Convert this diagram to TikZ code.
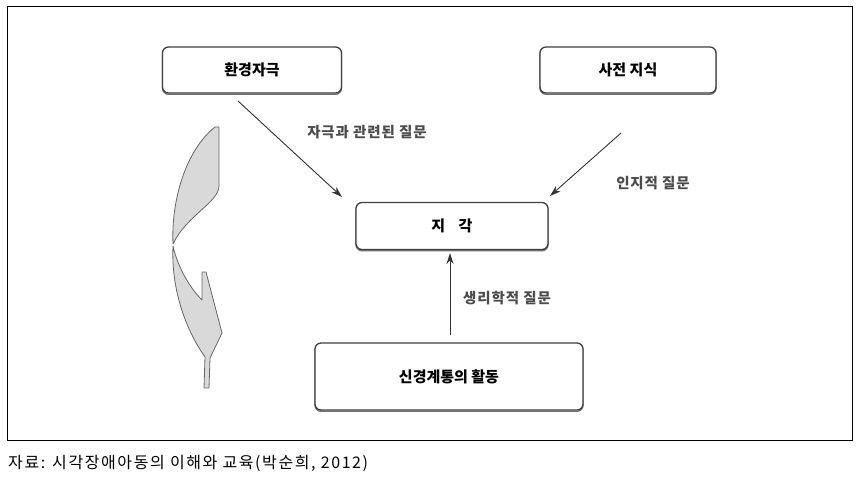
\documentclass[tikz,border=0pt]{standalone}
\usepackage{fontspec}
\setmainfont{Noto Sans CJK KR}
\usetikzlibrary{arrows.meta}
\tikzset{
  box/.style={draw=black!75, line width=1.3pt, rounded corners=6pt, fill=white, inner sep=0pt,
    preaction={draw=black!55, line width=1.3pt, transform canvas={yshift=-1.3pt}},
    font=\fontsize{15}{17}\selectfont\bfseries},
  lbl/.style={text=black!70, font=\fontsize{14.5}{16}\selectfont\bfseries\addfontfeatures{LetterSpace=6}, inner sep=0pt},
  conn/.style={draw=black!80, line width=0.9pt, -{Stealth[length=11pt,width=7pt]}},
  ribbon/.style={fill=black!15, draw=black!60, line width=0.8pt, line join=round}
}
\begin{document}
\begin{tikzpicture}[x=1pt,y=-1pt]
\useasboundingbox (0,0) rectangle (858,478);
\draw[line width=1pt] (7,7) rectangle (852,440);
% boxes
\node[box, minimum width=179pt, minimum height=46pt] (env) at (252,70) {환경자극};
\node[box, minimum width=176pt, minimum height=46pt] (know) at (628,70) {사전 지식};
\node[box, minimum width=192pt, minimum height=47pt] (perc) at (452,226) {지\hspace{0.9em}각};
\node[box, minimum width=268pt, minimum height=67pt] (neuro) at (449,376.5) {신경계통의 활동};
% labels
\node[lbl] (l1) at (367,132) {자극과 관련된 질문};
\node[lbl] (l2) at (653,183) {인지적 질문};
\node[lbl] (l3) at (507,298) {생리학적 질문};
% connectors
\coordinate (a1) at (238,101);
\coordinate (a1e) at (342,197);
\coordinate (a2) at (621,133);
\coordinate (a2e) at (550,196);
\coordinate (a3) at (450,335);
\coordinate (a3e) at (450,253);
\draw[conn] (a1) -- (a1e);
\draw[conn] (a2) -- (a2e);
\draw[conn] (a3) -- (a3e);
% curved ribbon arrow
\draw[ribbon] (215,127) .. controls (186,150) and (171,200) .. (173,244)
  .. controls (186,216) and (219,202) .. (219,186) -- (219,127) -- cycle;
\draw[ribbon] (173,246) .. controls (171,290) and (186,330) .. (205,357)
  -- (204,388) -- (209,388) -- (210,358) -- (222,333) -- (206,272) -- (202,272) -- (202,300)
  .. controls (190,288) and (178,268) .. (173,246) -- cycle;
% caption
\node[anchor=west, inner sep=0pt, font=\fontsize{16}{18}\selectfont\addfontfeatures{LetterSpace=10}] (cap) at (8,463) {자료: 시각장애아동의 이해와 교육(박순희, 2012)};
\end{tikzpicture}
\end{document}
